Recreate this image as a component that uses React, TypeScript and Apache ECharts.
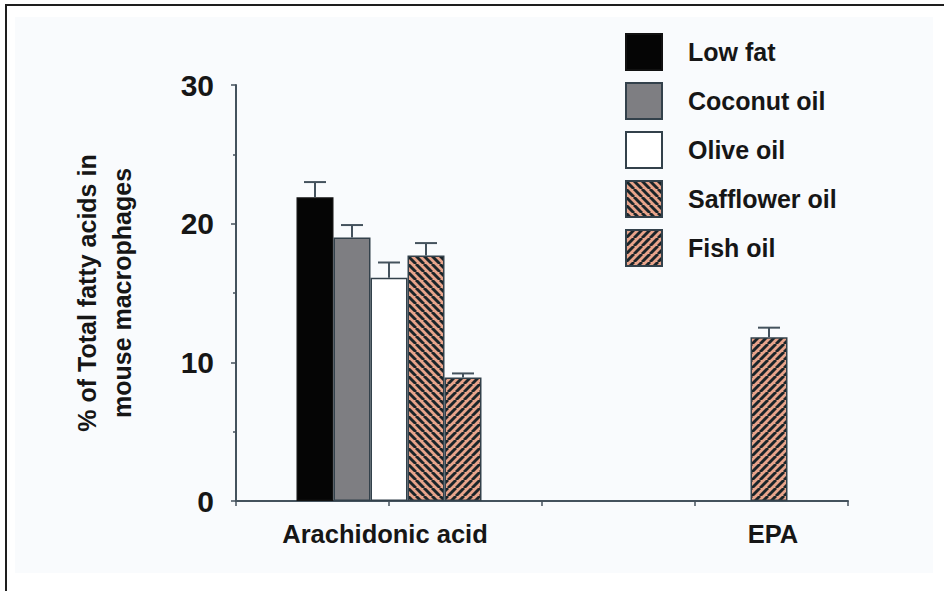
import React, { useEffect, useRef } from 'react';
import * as echarts from 'echarts';

const categories = ['Arachidonic acid', 'EPA'];
const dietNames = ['Low fat', 'Coconut oil', 'Olive oil', 'Safflower oil', 'Fish oil'];
const lowFat = [21.9, null];
const coconutOil = [19.0, null];
const oliveOil = [16.1, null];
const safflowerOil = [17.7, null];
const fishOil = [8.9, 11.8];
const lowFatErr = [1.1, null];
const coconutOilErr = [0.9, null];
const oliveOilErr = [1.1, null];
const safflowerOilErr = [0.9, null];
const fishOilErr = [0.3, 0.7];
const yAxisName = '% of Total fatty acids in\nmouse macrophages';

const FONT = '"Liberation Sans", Arial, Helvetica, sans-serif';
const AXIS = '#44525d';
const EDGE = '#33414b';
const BAR_W = 37;

function stripes(dir: 'back' | 'fwd') {
  const s = 8;
  const c = document.createElement('canvas');
  c.width = s;
  c.height = s;
  const ctx = c.getContext('2d')!;
  ctx.fillStyle = '#e8a48b';
  ctx.fillRect(0, 0, s, s);
  ctx.strokeStyle = '#1a2429';
  ctx.lineWidth = 2.9;
  ctx.beginPath();
  for (const k of [-s, 0, s]) {
    if (dir === 'back') {
      ctx.moveTo(k, 0);
      ctx.lineTo(k + s, s);
    } else {
      ctx.moveTo(k, s);
      ctx.lineTo(k + s, 0);
    }
  }
  ctx.stroke();
  return c;
}

export default function App() {
  const ref = useRef<HTMLDivElement>(null);
  useEffect(() => {
    if (!ref.current) return;
    const chart = echarts.init(ref.current, undefined, { renderer: 'svg' });
    const values = [lowFat, coconutOil, oliveOil, safflowerOil, fishOil];
    const errs = [lowFatErr, coconutOilErr, oliveOilErr, safflowerOilErr, fishOilErr];
    const fills: any[] = [
      '#050505',
      '#7e7e82',
      '#ffffff',
      { image: stripes('back'), repeat: 'repeat' },
      { image: stripes('fwd'), repeat: 'repeat' },
    ];
    const barSeries = dietNames.map((name, i) => ({
      type: 'bar',
      name,
      xAxisIndex: 0,
      yAxisIndex: 0,
      data: values[i].map((v) => (v == null ? '-' : v)),
      barWidth: BAR_W,
      barGap: '0%',
      itemStyle: {
        color: fills[i],
        borderColor: i === 0 ? '#111111' : EDGE,
        borderWidth: 1.5,
      },
      emphasis: { disabled: true },
      z: 2,
    }));
    const errSeries = dietNames.map((name, k) => ({
      type: 'custom',
      name: 'err ' + name,
      xAxisIndex: 0,
      yAxisIndex: 0,
      data: values[k]
        .map((v, j) => (v == null ? null : [j, v, errs[k][j]]))
        .filter((d) => d != null),
      renderItem: (params: any, api: any) => {
        const x = api.value(0);
        const v = api.value(1);
        const e = api.value(2);
        const base = api.coord([x, v]);
        const top = api.coord([x, v + e]);
        const cx = base[0] + (k - 2) * BAR_W;
        const style = { stroke: AXIS, lineWidth: 2 };
        return {
          type: 'group',
          children: [
            { type: 'line', shape: { x1: cx, y1: base[1], x2: cx, y2: top[1] }, style },
            { type: 'line', shape: { x1: cx - 11, y1: top[1], x2: cx + 11, y2: top[1] }, style },
          ],
        };
      },
      z: 3,
      silent: true,
    }));

    chart.setOption({
      animation: false,
      backgroundColor: '#ffffff',
      textStyle: { fontFamily: FONT },
      graphic: [
        { type: 'rect', z: -10, shape: { x: 15, y: 17, width: 918, height: 556 }, style: { fill: '#f9fbfd' } },
        { type: 'line', z: 10, shape: { x1: 5, y1: 5, x2: 944, y2: 5 }, style: { stroke: '#1e1e1e', lineWidth: 2 } },
        { type: 'line', z: 10, shape: { x1: 6, y1: 5, x2: 6, y2: 591 }, style: { stroke: '#1e1e1e', lineWidth: 2 } },
      ],
      legend: {
        orient: 'vertical',
        left: 625,
        top: 33,
        itemWidth: 36,
        itemHeight: 36,
        itemGap: 11,
        padding: 0,
        selectedMode: false,
        icon: 'rect',
        data: dietNames,
        textStyle: {
          fontFamily: FONT,
          fontSize: 25,
          fontWeight: 'bold',
          color: '#161616',
          padding: [0, 0, 0, 21],
        },
      },
      grid: { left: 236, top: 85, width: 612, height: 416, containLabel: false },
      xAxis: [
        {
          type: 'category',
          data: categories,
          position: 'bottom',
          axisLine: { show: true, lineStyle: { color: AXIS, width: 2 } },
          axisTick: { show: false },
          axisLabel: {
            interval: 0,
            hideOverlap: false,
            margin: 20,
            fontFamily: FONT,
            fontSize: 25,
            fontWeight: 'bold',
            color: '#161616',
            formatter: (v: string) => (v === 'EPA' ? '{e|' + v + '}' : '{a|' + v + '}'),
            rich: {
              a: { fontFamily: FONT, fontSize: 25.5, fontWeight: 'bold', color: '#161616', padding: [0, 8, 0, 0] },
              e: { fontFamily: FONT, fontSize: 25.5, fontWeight: 'bold', color: '#161616', padding: [0, 0, 0, 156] },
            },
          },
          splitLine: { show: false },
        },
        {
          type: 'value',
          min: 0,
          max: 4,
          interval: 1,
          position: 'bottom',
          axisLine: { show: false },
          axisTick: { show: true, length: 5, lineStyle: { color: AXIS, width: 1.5 } },
          axisLabel: { show: false },
          splitLine: { show: false },
        },
      ],
      yAxis: {
        type: 'value',
        min: 0,
        max: 30,
        interval: 10,
        name: yAxisName,
        nameLocation: 'middle',
        nameRotate: 90,
        nameGap: 97,
        nameTextStyle: {
          fontFamily: FONT,
          fontSize: 25,
          fontWeight: 'bold',
          color: '#161616',
          lineHeight: 35,
          align: 'center',
        },
        axisLine: { show: true, lineStyle: { color: AXIS, width: 2 } },
        axisTick: { show: true, length: 5, lineStyle: { color: AXIS, width: 1.5 } },
        minorTick: { show: true, splitNumber: 2, length: 3, lineStyle: { color: AXIS, width: 1.5 } },
        axisLabel: {
          margin: 22,
          fontFamily: FONT,
          fontSize: 30,
          fontWeight: 'bold',
          color: '#161616',
        },
        splitLine: { show: false },
      },
      series: [...barSeries, ...errSeries],
    });
    return () => chart.dispose();
  }, []);
  return <div ref={ref} style={{ position: 'fixed', left: 0, top: 0, width: 944, height: 591 }} />;
}
